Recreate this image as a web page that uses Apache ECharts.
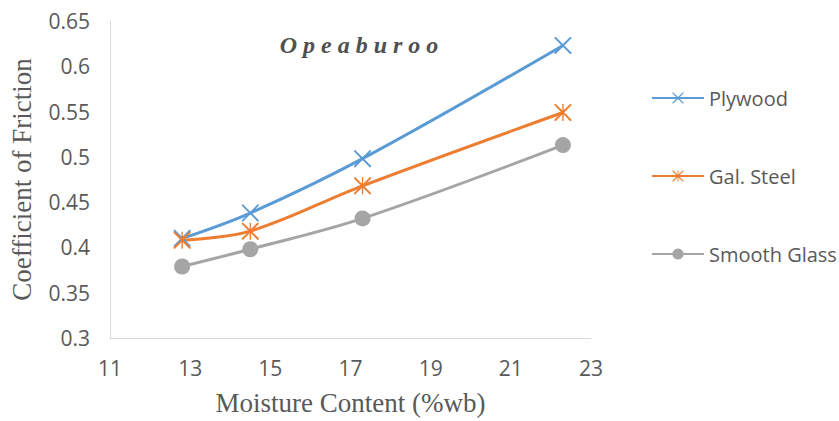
<!DOCTYPE html>
<html>
<head>
<meta charset="utf-8">
<script src="https://cdn.jsdelivr.net/npm/echarts@6/dist/echarts.min.js"></script>
<style>
  html, body { margin: 0; padding: 0; background: #ffffff; }
  #chart { width: 839px; height: 421px; }
</style>
</head>
<body>
<div id="chart"></div>
<script>
// Moisture content (% wet basis) at which each surface was tested
const moisture = [12.8, 14.5, 17.3, 22.3];

// Coefficient of friction on each test surface
const plywood = [0.410, 0.438, 0.498, 0.623];
const galSteel = [0.408, 0.418, 0.468, 0.549];
const smoothGlass = [0.379, 0.398, 0.432, 0.513];

const seriesNames = ['Plywood', 'Gal. Steel', 'Smooth Glass'];
const yTicks = [0.3, 0.35, 0.4, 0.45, 0.5, 0.55, 0.6, 0.65];
const xTicks = [11, 13, 15, 17, 19, 21, 23];
const chartTitle = 'Opeaburoo';

// Cross and asterisk markers built as filled outlines
const crossPath = 'path://M0,0 L1.6,0 L10,8.4 L18.4,0 L20,0 L20,1.6 L11.6,10 L20,18.4 L20,20 L18.4,20 L10,11.6 L1.6,20 L0,20 L0,18.4 L8.4,10 L0,1.6 Z';
const starPath = crossPath + ' M9.2,0 L10.8,0 L10.8,20 L9.2,20 Z';

const pair = (xs, ys) => xs.map((x, i) => [x, ys[i]]);

const tickFont = { fontFamily: 'Open Sans', fontSize: 21, color: '#595959' };
const nameFont = { fontFamily: 'Liberation Serif', fontSize: 27, color: '#595959' };

function lineSeries(name, values, color, symbol, size) {
  return {
    name: name,
    type: 'line',
    data: pair(moisture, values),
    smooth: 0.35,
    symbol: symbol,
    symbolSize: size,
    showAllSymbol: true,
    lineStyle: { color: color, width: 3 },
    itemStyle: { color: color },
    emphasis: { disabled: true },
    z: 3
  };
}

const chart = echarts.init(document.getElementById('chart'), null, { renderer: 'svg' });

chart.setOption({
  animation: false,
  backgroundColor: '#ffffff',
  title: {
    text: chartTitle,
    left: 357,
    top: 28,
    textAlign: 'center',
    textStyle: {
      fontFamily: 'Liberation Serif',
      fontStyle: 'italic',
      fontWeight: 'bold',
      fontSize: 24,
      color: '#505050'
    }
  },
  grid: { left: 110, right: 248, top: 21, bottom: 79, containLabel: false },
  legend: {
    orient: 'vertical',
    left: 646,
    top: 83,
    itemWidth: 52,
    itemHeight: 14,
    itemGap: 58,
    data: seriesNames,
    textStyle: { fontFamily: 'Open Sans', fontSize: 20, lineHeight: 20, color: '#595959' }
  },
  xAxis: {
    type: 'value',
    min: xTicks[0],
    max: xTicks[xTicks.length - 1],
    interval: 2,
    name: 'Moisture Content (%wb)',
    nameLocation: 'middle',
    nameGap: 51,
    nameTextStyle: nameFont,
    axisLine: { show: true, lineStyle: { color: '#d9d9d9', width: 1 } },
    axisTick: { show: false },
    splitLine: { show: false },
    axisLabel: Object.assign({ margin: 19 }, tickFont)
  },
  yAxis: {
    type: 'value',
    min: yTicks[0],
    max: yTicks[yTicks.length - 1],
    interval: 0.05,
    name: 'Coefficient of Friction',
    nameLocation: 'middle',
    nameGap: 75,
    nameTextStyle: nameFont,
    axisLine: { show: true, lineStyle: { color: '#d9d9d9', width: 1 } },
    axisTick: { show: false },
    splitLine: { show: false },
    axisLabel: Object.assign({
      margin: 20,
      formatter: v => String(Number(v.toFixed(2)))
    }, tickFont)
  },
  series: [
    lineSeries(seriesNames[0], plywood, '#5b9bd5', crossPath, 17),
    lineSeries(seriesNames[1], galSteel, '#ed7d31', starPath, 17),
    lineSeries(seriesNames[2], smoothGlass, '#a5a5a5', 'circle', 16)
  ]
});

// The title is set in widely tracked letters
document.querySelectorAll('#chart svg text').forEach(t => {
  if (t.textContent === chartTitle) {
    t.style.letterSpacing = '6px';
  }
});
</script>
</body>
</html>
